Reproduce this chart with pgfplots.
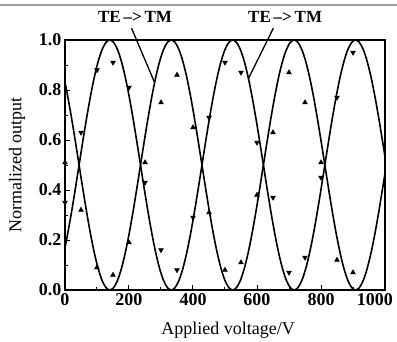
\documentclass[border=0pt]{standalone}
\usepackage{fontspec}
\setmainfont{Liberation Serif}
\usepackage{pgfplots}
\usepackage{pgfplotstable}
\pgfplotsset{compat=1.18}
\pgfplotstableread{
x A B
0 0.17033 0.82967
8 0.22221 0.77779
20 0.30866 0.69134
32 0.40245 0.59755
44 0.50000 0.50000
56 0.59755 0.40245
68 0.69134 0.30866
80 0.77779 0.22221
92 0.85355 0.14645
104 0.91573 0.08427
116 0.96194 0.03806
128 0.99039 0.00961
140 1.00000 0.00000
152 0.99039 0.00961
164 0.96194 0.03806
176 0.91573 0.08427
188 0.85355 0.14645
200 0.77779 0.22221
212 0.69134 0.30866
224 0.59755 0.40245
236 0.50000 0.50000
248 0.40245 0.59755
260 0.30866 0.69134
272 0.22221 0.77779
284 0.14645 0.85355
296 0.08427 0.91573
308 0.03806 0.96194
320 0.00961 0.99039
332 0.00000 1.00000
344 0.00961 0.99039
356 0.03806 0.96194
368 0.08427 0.91573
380 0.14645 0.85355
392 0.22221 0.77779
404 0.30866 0.69134
416 0.40245 0.59755
428 0.50000 0.50000
440 0.59755 0.40245
452 0.69134 0.30866
464 0.77779 0.22221
476 0.85355 0.14645
488 0.91573 0.08427
500 0.96194 0.03806
512 0.99039 0.00961
524 1.00000 0.00000
536 0.99039 0.00961
548 0.96194 0.03806
560 0.91573 0.08427
572 0.85355 0.14645
584 0.77779 0.22221
596 0.69134 0.30866
608 0.59755 0.40245
620 0.50000 0.50000
632 0.40245 0.59755
644 0.30866 0.69134
656 0.22221 0.77779
668 0.14645 0.85355
680 0.08427 0.91573
692 0.03806 0.96194
704 0.00961 0.99039
716 0.00000 1.00000
728 0.00961 0.99039
740 0.03806 0.96194
752 0.08427 0.91573
764 0.14645 0.85355
776 0.22221 0.77779
788 0.30866 0.69134
800 0.40245 0.59755
812 0.50000 0.50000
824 0.59755 0.40245
836 0.69134 0.30866
848 0.77779 0.22221
860 0.85355 0.14645
872 0.91573 0.08427
884 0.96194 0.03806
896 0.99039 0.00961
908 1.00000 0.00000
920 0.99039 0.00961
932 0.96194 0.03806
944 0.91573 0.08427
956 0.85355 0.14645
968 0.77779 0.22221
980 0.69134 0.30866
992 0.59755 0.40245
1000 0.53270 0.46730
}\curves
\pgfplotstableread{
x y
0 0.35
50 0.63
100 0.88
150 0.91
200 0.81
250 0.43
300 0.16
350 0.08
400 0.29
450 0.69
500 0.91
550 0.87
600 0.59
650 0.37
700 0.07
750 0.13
800 0.45
850 0.77
900 0.95
}\dataA
\pgfplotstableread{
x y
0 0.51
50 0.32
100 0.09
150 0.06
200 0.19
250 0.51
300 0.75
350 0.86
400 0.65
450 0.31
500 0.08
550 0.11
600 0.38
650 0.63
700 0.87
750 0.75
800 0.51
850 0.12
900 0.07
}\dataB
\begin{document}
\begin{tikzpicture}
\path[use as bounding box] (-65pt,-51pt) rectangle (332pt,290pt);
\draw[gray!75, line width=2.2pt] (-65pt,285pt) -- (332pt,285pt);
\begin{axis}[
  width=320pt, height=250pt, scale only axis,
  xmin=0, xmax=1000, ymin=0, ymax=1,
  xtick={0,200,400,600,800,1000},
  xticklabels={0,200,400,600,800,\hspace*{-20pt}1000},
  ytick={0,0.2,0.4,0.6,0.8,1.0},
  yticklabels={0.0,0.2,0.4,0.6,0.8,1.0},
  minor x tick num=1, minor y tick num=1,
  tick pos=left, tick align=inside,
  major tick length=5pt, minor tick length=3pt,
  every tick/.style={black, line width=1pt},
  axis line style={line width=1.3pt},
  tick label style={font=\fontsize{18}{20}\selectfont\bfseries},
  label style={font=\fontsize{18}{20}\selectfont},
  xlabel={Applied voltage/V},
  ylabel={Normalized output},
  xlabel style={at={(axis description cs:0.51,-0.16)}, anchor=center},
  ylabel style={at={(axis description cs:-0.15,0.5)}, anchor=center},
  clip=false,
]
\addplot[black, line width=1.6pt, smooth, no marks] table[x=x, y=A] {\curves};
\addplot[black, line width=1.6pt, smooth, no marks] table[x=x, y=B] {\curves};
\addplot[only marks, mark=triangle*, mark size=2.8pt, mark options={black, fill=black, rotate=180}] table[x=x, y=y] {\dataA};
\addplot[only marks, mark=triangle*, mark size=2.8pt, mark options={black, fill=black}] table[x=x, y=y] {\dataB};
\draw[black, line width=1.3pt] (axis cs:208,1.047) -- (axis cs:280,0.83);
\draw[black, line width=1.3pt] (axis cs:651,1.047) -- (axis cs:573,0.845);
\node[font=\fontsize{17}{20}\selectfont\bfseries] at (axis cs:219,1.092) {TE\,–>\,TM};
\node[font=\fontsize{17}{20}\selectfont\bfseries] at (axis cs:688,1.092) {TE\,–>\,TM};
\end{axis}
\end{tikzpicture}
\end{document}
